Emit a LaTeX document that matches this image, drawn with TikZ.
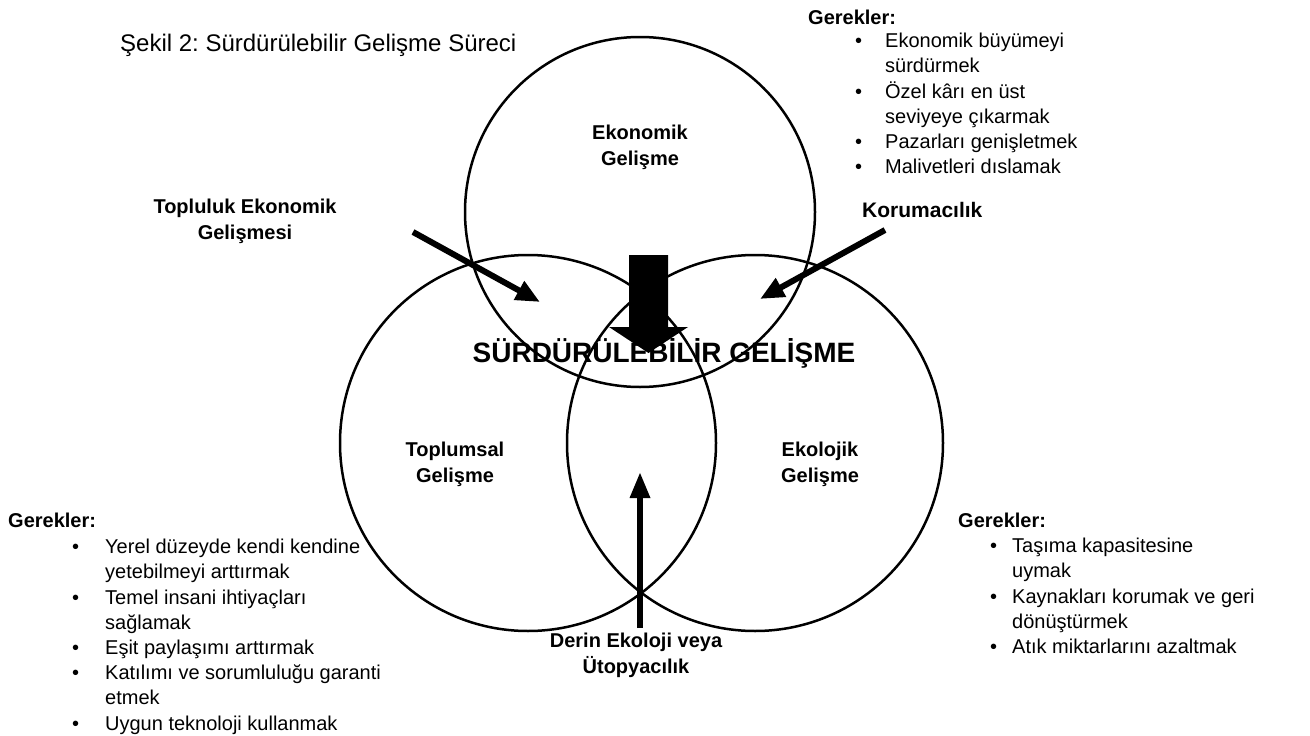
\documentclass[tikz,border=0pt]{standalone}
\usepackage{fontspec}
\setmainfont{Liberation Sans}
\usetikzlibrary{arrows.meta}
\frenchspacing
\newcommand{\bul}[1][30pt]{\makebox[#1][l]{•}}
\newcommand{\ind}[1][30pt]{\hspace*{#1}}
\tikzset{
  ring/.style={circle, draw, line width=2.5pt, minimum size=#1, inner sep=0pt},
  lbl/.style={font=\fontsize{20}{26}\selectfont\bfseries, align=center, inner sep=0pt},
  lst/.style={font=\fontsize{20}{25.2}\selectfont, align=left, anchor=north west, inner sep=0pt},
  hdr/.style={font=\fontsize{20}{25}\selectfont\bfseries, anchor=west, inner sep=0pt},
  thk/.style={line width=6pt, -{Triangle[length=24pt, width=20pt]}},
}
\begin{document}
\begin{tikzpicture}[x=1pt,y=-1pt]
\useasboundingbox (0,0) rectangle (1310,736);
% circles
\node[ring=350pt] (eko) at (640,212) {};
\node[ring=376pt] (top) at (528,443) {};
\node[ring=376pt] (ekl) at (755,443) {};
% title
\node[font=\fontsize{24}{28}\selectfont, anchor=west, inner sep=0pt] (title) at (120,45) {Şekil 2: Sürdürülebilir Gelişme Süreci};
% big arrow
\fill (629,255) -- (668,255) -- (668,327) -- (688,327) -- (648.5,353) -- (609,327) -- (629,327) -- cycle;
% circle labels
\node[lbl] (ekolbl) at (640,147) {Ekonomik\\Gelişme};
\node[lbl] (toplbl) at (455,464) {Toplumsal\\Gelişme};
\node[lbl] (ekllbl) at (820,464) {Ekolojik\\Gelişme};
\node[lbl, font=\fontsize{28}{30}\selectfont\bfseries] (sg) at (664,353) {SÜRDÜRÜLEBİLİR GELİŞME};
% side labels
\node[lbl] (tek) at (245,221) {Topluluk Ekonomik\\Gelişmesi};
\node[lbl, anchor=west, font=\fontsize{21}{26}\selectfont\bfseries] (kor) at (862,210) {Korumacılık};
\node[lbl] (derin) at (636,655) {Derin Ekoloji veya\\Ütopyacılık};
% arrows
\coordinate (a1s) at (413,232); \coordinate (a1e) at (540,302);
\coordinate (a2s) at (885,230); \coordinate (a2e) at (760,299);
\coordinate (a3s) at (640,628); \coordinate (a3e) at (640,472);
\draw[thk] (a1s) -- (a1e);
\draw[thk] (a2s) -- (a2e);
\draw[thk, -{Triangle[length=26pt, width=19pt]}] (a3s) -- (a3e);
% requirement lists
\node[hdr] (g1) at (808,17) {Gerekler:};
\node[lst] (l1) at (855,33) {\bul Ekonomik büyümeyi\\\ind sürdürmek\\\bul Özel kârı en üst\\\ind seviyeye çıkarmak\\\bul Pazarları genişletmek\\\bul Malivetleri dıslamak};
\node[hdr] (g2) at (8,520) {Gerekler:};
\node[lst] (l2) at (72,539) {\bul[33pt]Yerel düzeyde kendi kendine\\\ind[33pt]yetebilmeyi arttırmak\\\bul[33pt]Temel insani ihtiyaçları\\\ind[33pt]sağlamak\\\bul[33pt]Eşit paylaşımı arttırmak\\\bul[33pt]Katılımı ve sorumluluğu garanti\\\ind[33pt]etmek\\\bul[33pt]Uygun teknoloji kullanmak};
\node[hdr] (g3) at (958,520) {Gerekler:};
\node[lst] (l3) at (990,538) {\bul[22pt]Taşıma kapasitesine\\\ind[22pt]uymak\\\bul[22pt]Kaynakları korumak ve geri\\\ind[22pt]dönüştürmek\\\bul[22pt]Atık miktarlarını azaltmak};
\end{tikzpicture}
\end{document}
